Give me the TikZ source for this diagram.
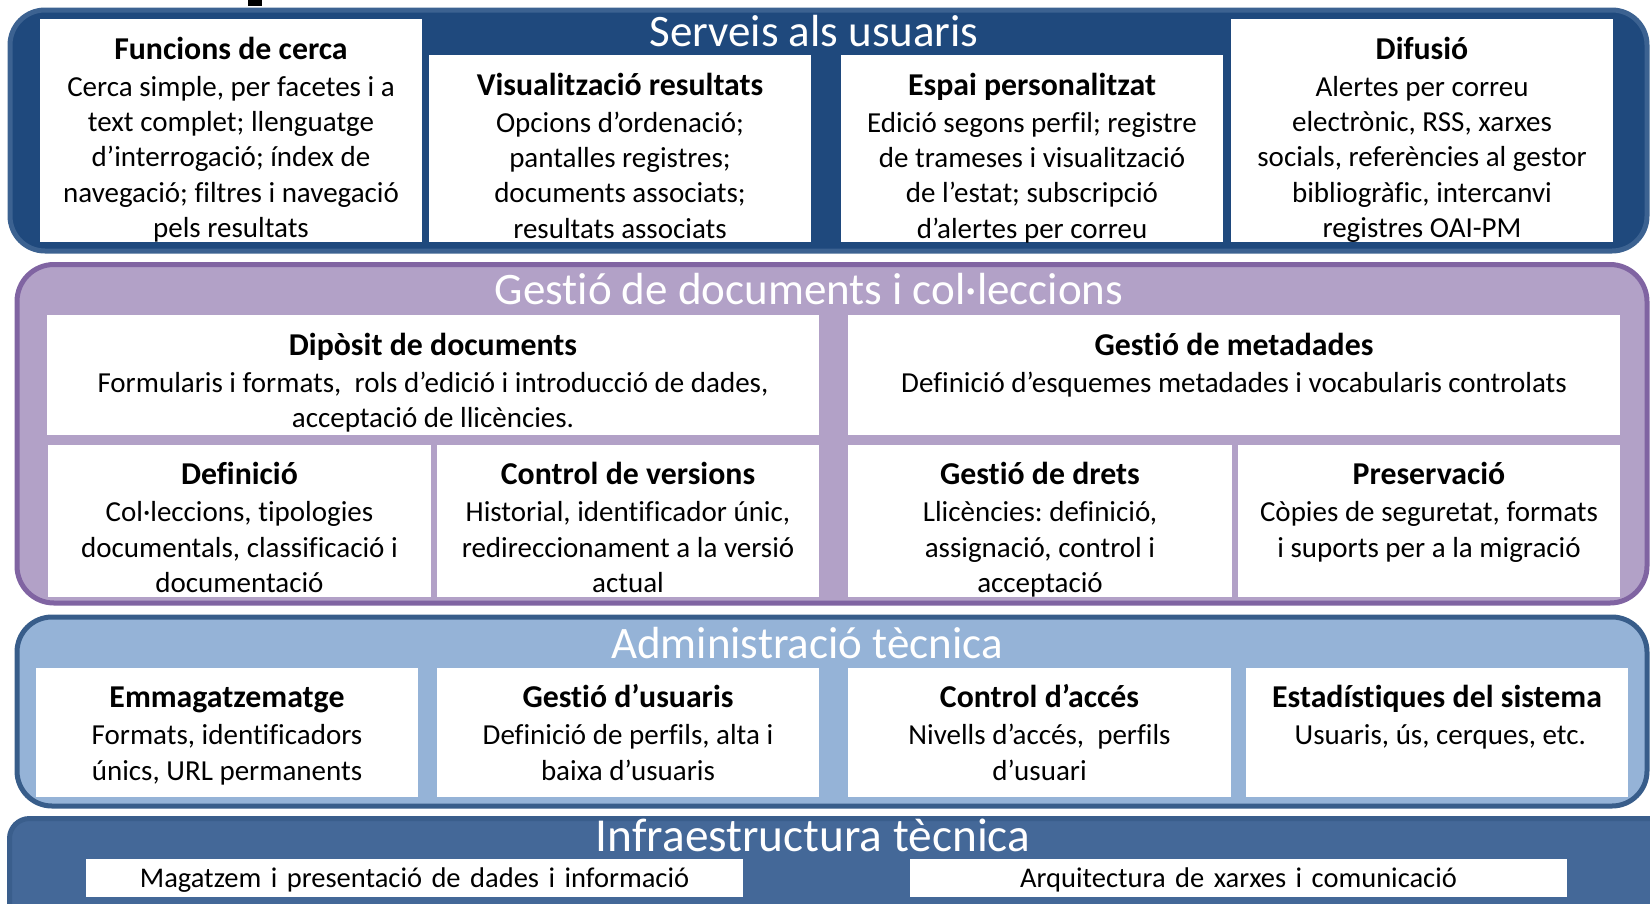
\documentclass[tikz,border=0pt]{standalone}
\usepackage{fontspec}
\setmainfont[Ligatures={NoCommon}]{Carlito}
\definecolor{bAfill}{RGB}{31,73,125}
\definecolor{bAdraw}{RGB}{60,98,145}
\definecolor{bBfill}{RGB}{178,161,199}
\definecolor{bBdraw}{RGB}{128,100,162}
\definecolor{bCfill}{RGB}{149,179,215}
\definecolor{bCdraw}{RGB}{56,93,138}
\definecolor{bDfill}{RGB}{68,104,152}
\definecolor{bDdraw}{RGB}{58,94,140}
\newcommand\boxtitle[1]{{\fontsize{31.8}{35.3}\selectfont\bfseries\spaceskip=7.3pt\relax #1}}
\frenchspacing
\begin{document}
\begin{tikzpicture}[x=1pt,y=-1pt,
  band/.style={line width=5pt, rounded corners=#1},
  wbox/.style={fill=white},
  hd/.style={anchor=base, inner sep=0pt, text=white, font=\fontsize{#1}{50}\selectfont},
  txt/.style={anchor=base, inner sep=0pt, align=center, text width=#1pt,
    font=\frenchspacing\fontsize{29}{35.3}\selectfont,
    execute at begin node={\spaceskip=6.6pt\relax}},
  low/.style={anchor=base, inner sep=0pt, align=center, text width=#1pt, font=\frenchspacing\fontsize{28.5}{35}\selectfont},
]
\useasboundingbox (0,0) rectangle (1650,903);
\fill (248,0) rectangle (262,6);

% ---- bands
\path[band=35pt, fill=bAfill, draw=bAdraw] (10,10) rectangle (1647,251);
\path[band=37pt, fill=bBfill, draw=bBdraw] (17,264.5) rectangle (1647,603);
\path[band=35pt, fill=bCfill, draw=bCdraw] (17,617) rectangle (1647,806);
\path[band=20pt, fill=bDfill, draw=bDdraw] (9.5,818.5) rectangle (1690,950);

% ---- band titles
\node[hd=45] (hA) at (814,46) {Serveis als usuaris};
\node[hd=45] (hB) at (809,304) {Gestió de documents i col·leccions};
\node[hd=45] (hC) at (807,658) {Administració tècnica};
\node[hd=47.3] (hD) at (813,851) {Infraestructura tècnica};

% ---- band 1 boxes
\fill[wbox] (40,19) rectangle (422,242);
\fill[wbox] (429,55) rectangle (811,242);
\fill[wbox] (841,55) rectangle (1223,242);
\fill[wbox] (1231,19) rectangle (1613,242);
\node[txt=380] (a1) at (231,59) {\boxtitle{Funcions de cerca}\\[2pt]
 Cerca simple, per facetes i a\\ text complet; llenguatge\\ d’interrogació; índex de\\ navegació; filtres i navegació\\ pels resultats};
\node[txt=380] (a2) at (620,95) {\boxtitle{Visualització resultats}\\[2pt]
 Opcions d’ordenació;\\ pantalles registres;\\ documents associats;\\ resultats associats};
\node[txt=380] (a3) at (1032,95) {\boxtitle{Espai personalitzat}\\[2pt]
 Edició segons perfil; registre\\ de trameses i visualització\\ de l’estat; subscripció\\ d’alertes per correu};
\node[txt=380] (a4) at (1422,59) {\boxtitle{Difusió}\\[2pt]
 Alertes per correu\\ electrònic, RSS, xarxes\\ socials, referències al gestor\\ bibliogràfic, intercanvi\\ registres OAI-PM};

% ---- band 2 boxes
\fill[wbox] (47,315) rectangle (819,435);
\fill[wbox] (848,315) rectangle (1620,435);
\fill[wbox] (48,445) rectangle (431,597);
\fill[wbox] (437,445) rectangle (819,597);
\fill[wbox] (848,445) rectangle (1232,597);
\fill[wbox] (1238,445) rectangle (1620,597);
\node[txt=770] (b1) at (433,355) {\boxtitle{Dipòsit de documents}\\[2pt]
 Formularis i formats,~ rols d’edició i introducció de dades,\\ acceptació de llicències.};
\node[txt=770] (b2) at (1234,355) {\boxtitle{Gestió de metadades}\\[2pt]
 Definició d’esquemes metadades i vocabularis controlats};
\node[txt=380] (b3) at (239.5,484.5) {\boxtitle{Definició}\\[2pt]
 Col·leccions, tipologies\\ documentals, classificació i\\ documentació};
\node[txt=380] (b4) at (628,484.5) {\boxtitle{Control de versions}\\[2pt]
 Historial, identificador únic,\\ redireccionament a la versió\\ actual};
\node[txt=380] (b5) at (1040,484.5) {\boxtitle{Gestió de drets}\\[2pt]
 Llicències: definició,\\ assignació, control i\\ acceptació};
\node[txt=380] (b6) at (1429,484.5) {\boxtitle{Preservació}\\[2pt]
 Còpies de seguretat, formats\\ i suports per a la migració};

% ---- band 3 boxes
\fill[wbox] (36,668) rectangle (418,797);
\fill[wbox] (437,668) rectangle (819,797);
\fill[wbox] (848,668) rectangle (1231,797);
\fill[wbox] (1246,668) rectangle (1628,797);
\node[txt=380] (c1) at (227,707.5) {\boxtitle{Emmagatzematge}\\[2pt]
 Formats, identificadors\\ únics, URL permanents};
\node[txt=380] (c2) at (628,707.5) {\boxtitle{Gestió d’usuaris}\\[2pt]
 Definició de perfils, alta i\\ baixa d’usuaris};
\node[txt=380] (c3) at (1039.5,707.5) {\boxtitle{Control d’accés}\\[2pt]
 Nivells d’accés,~ perfils\\ d’usuari};
\node[txt=380] (c4) at (1437,707.5) {\boxtitle{Estadístiques del sistema}\\[2pt]
 ~Usuaris, ús, cerques, etc.};

% ---- band 4 boxes
\fill[wbox] (86,859) rectangle (743,897);
\fill[wbox] (910,859) rectangle (1567,897);
\node[low=650] (d1) at (414.5,887.5) {Magatzem i presentació de dades i informació};
\node[low=650] (d2) at (1238.5,887.5) {Arquitectura de xarxes i comunicació};
\end{tikzpicture}
\end{document}
